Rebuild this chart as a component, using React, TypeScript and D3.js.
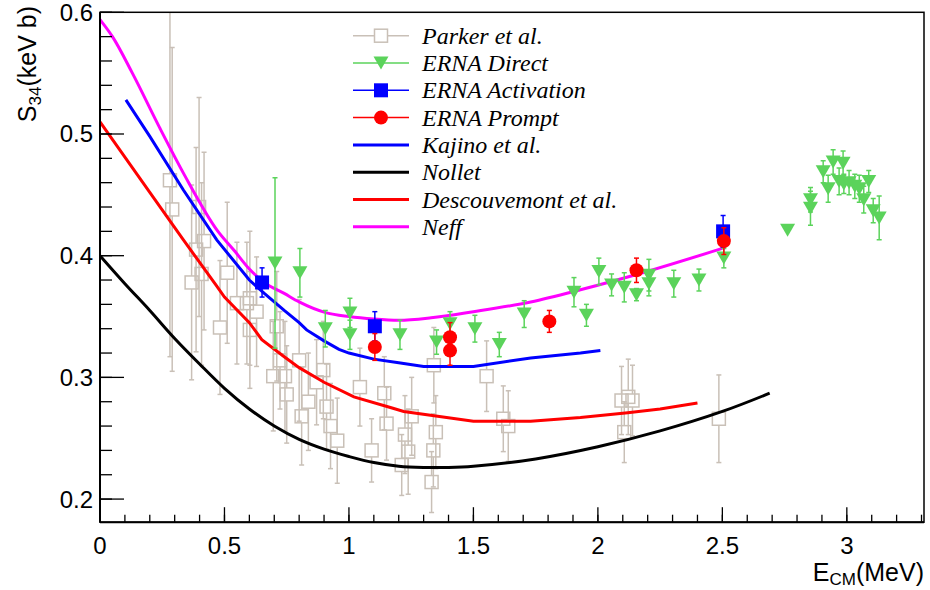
import React from "react";
import * as d3 from "d3";

// ---------- data ----------
const parkerX = [0.281, 0.290, 0.398, 0.418, 0.386, 0.368, 0.408, 0.511, 0.482, 0.550, 0.590, 0.602, 0.629, 0.602, 0.710, 0.723, 0.696, 0.743, 0.750, 0.800, 0.810, 0.837, 0.897, 0.870, 0.910, 0.926, 0.953, 1.044, 1.091, 1.142, 1.151, 1.212, 1.225, 1.238, 1.252, 1.341, 1.349, 1.339, 1.332, 1.553, 1.620, 1.640, 2.095, 2.122, 2.139, 2.106, 2.486];
const parkerY = [0.462, 0.438, 0.440, 0.412, 0.405, 0.378, 0.385, 0.386, 0.341, 0.361, 0.361, 0.365, 0.354, 0.339, 0.342, 0.314, 0.301, 0.301, 0.286, 0.314, 0.268, 0.280, 0.306, 0.296, 0.276, 0.260, 0.248, 0.292, 0.240, 0.287, 0.262, 0.228, 0.253, 0.239, 0.268, 0.310, 0.255, 0.240, 0.214, 0.301, 0.266, 0.260, 0.281, 0.284, 0.281, 0.255, 0.266];
const parkerErr = [0.145, 0.133, 0.090, 0.073, 0.084, 0.080, 0.075, 0.058, 0.055, 0.050, 0.050, 0.055, 0.045, 0.048, 0.045, 0.040, 0.045, 0.045, 0.040, 0.050, 0.040, 0.040, 0.040, 0.035, 0.035, 0.035, 0.035, 0.032, 0.026, 0.030, 0.030, 0.025, 0.032, 0.035, 0.032, 0.031, 0.030, 0.030, 0.025, 0.029, 0.027, 0.029, 0.028, 0.031, 0.029, 0.025, 0.036];

const directX = [0.703, 0.803, 0.905, 1.004, 1.004, 1.205, 1.352, 1.406, 1.506, 1.604, 1.704, 1.904, 1.954, 2.004, 2.055, 2.106, 2.155, 2.205, 2.205, 2.305, 2.406, 2.506, 2.762, 2.854, 2.854, 2.905, 2.925, 2.945, 2.969, 2.985, 2.988, 3.009, 3.032, 3.050, 3.068, 3.088, 3.106, 3.130];
const directY = [0.394, 0.386, 0.340, 0.353, 0.335, 0.335, 0.329, 0.344, 0.340, 0.327, 0.352, 0.370, 0.351, 0.387, 0.376, 0.374, 0.368, 0.384, 0.377, 0.377, 0.380, 0.398, 0.421, 0.446, 0.439, 0.469, 0.455, 0.477, 0.461, 0.476, 0.459, 0.460, 0.457, 0.455, 0.446, 0.461, 0.437, 0.431];
const directErr = [0.070, 0.020, 0.015, 0.012, 0.012, 0.012, 0.010, 0.010, 0.011, 0.010, 0.011, 0.012, 0.009, 0.011, 0.009, 0.012, 0.005, 0.013, 0.010, 0.011, 0.009, 0.008, 0.000, 0.010, 0.014, 0.009, 0.011, 0.010, 0.011, 0.010, 0.008, 0.010, 0.010, 0.011, 0.011, 0.009, 0.010, 0.018];

const activationX = [0.651, 1.104, 2.503];
const activationY = [0.378, 0.342, 0.420];
const activationErr = [0.012, 0.012, 0.013];

const promptX = [1.104, 1.406, 1.406, 1.805, 2.155, 2.506];
const promptY = [0.325, 0.333, 0.322, 0.346, 0.388, 0.412];
const promptErr = [0.011, 0.012, 0.012, 0.009, 0.010, 0.011];

const kajinoX = [0.104, 0.2, 0.335, 0.469, 0.60, 0.66, 0.74, 0.80, 0.83, 0.90, 0.96, 1.0, 1.1, 1.2, 1.3, 1.5, 1.73, 1.93, 2.01];
const kajinoY = [0.528, 0.498, 0.454, 0.413, 0.380, 0.369, 0.355, 0.345, 0.339, 0.330, 0.323, 0.320, 0.315, 0.312, 0.309, 0.309, 0.316, 0.320, 0.322];

const nolletX = [0, 0.1, 0.2, 0.3, 0.4, 0.5, 0.6, 0.7, 0.8, 0.9, 1.0, 1.1, 1.2, 1.3, 1.4, 1.5, 1.75, 2.0, 2.25, 2.5, 2.69];
const nolletY = [0.400, 0.377, 0.355, 0.332, 0.311, 0.291, 0.274, 0.260, 0.249, 0.241, 0.235, 0.230, 0.227, 0.226, 0.226, 0.227, 0.233, 0.243, 0.256, 0.272, 0.287];

const descX = [0, 0.2, 0.335, 0.469, 0.50, 0.60, 0.65, 0.74, 0.80, 0.90, 1.02, 1.17, 1.22, 1.5, 1.73, 1.93, 2.12, 2.25, 2.40];
const descY = [0.510, 0.452, 0.413, 0.375, 0.366, 0.345, 0.331, 0.317, 0.308, 0.296, 0.284, 0.275, 0.272, 0.264, 0.264, 0.267, 0.271, 0.274, 0.279];

const neffX = [0, 0.05, 0.13, 0.24, 0.34, 0.47, 0.54, 0.60, 0.66, 0.74, 0.80, 0.91, 1.0, 1.1, 1.2, 1.33, 1.5, 1.73, 1.93, 2.18, 2.5];
const neffY = [0.594, 0.580, 0.550, 0.505, 0.466, 0.421, 0.404, 0.389, 0.378, 0.369, 0.362, 0.353, 0.350, 0.348, 0.347, 0.349, 0.354, 0.362, 0.372, 0.386, 0.406];

const xMajorTicks = [0, 0.5, 1, 1.5, 2, 2.5, 3];
const xTickLabels = ["0", "0.5", "1", "1.5", "2", "2.5", "3"];
const yMajorTicks = [0.2, 0.3, 0.4, 0.5, 0.6];
const yTickLabels = ["0.2", "0.3", "0.4", "0.5", "0.6"];

const legendLabels = ["Parker et al.", "ERNA Direct", "ERNA Activation", "ERNA Prompt", "Kajino et al.", "Nollet", "Descouvemont et al.", "Neff"];

// ---------- styles ----------
const GRAY = "#c9c0b7";
const GREEN = "#5bd35b";
const BLUE = "#0000ff";
const RED = "#ff0000";
const MAGENTA = "#ff00ff";

const W = 930, H = 590;
const L = 100, R = 924, T = 12.3, B = 522.2;

export default function App() {
  const x = d3.scaleLinear().domain([0, 3.31]).range([L, R]);
  const y = d3.scaleLinear().domain([0.181, 0.6]).range([B, T]);

  const line = (xs: number[], ys: number[], curve: any) =>
    d3.line<number>().x((_, i) => x(xs[i])).y((_, i) => y(ys[i])).curve(curve)(xs.map((_, i) => i)) || "";

  const xMinor = d3.range(0, 34).map((i) => i * 0.1).filter((v) => v <= 3.31);
  const yMinor = d3.range(0, 21).map((i) => 0.2 + i * 0.02);

  const cap = 2.5;
  const errBar = (cx: number, v: number, e: number, color: string, gap: number, key: string) => {
    if (e <= 0) return null;
    const yt = y(v + e), yb = y(v - e), yc = y(v);
    const els = [] as any[];
    if (yc - gap > yt) els.push(<line key="a" x1={cx} x2={cx} y1={yt} y2={yc - gap} />);
    if (yc + gap < yb) els.push(<line key="b" x1={cx} x2={cx} y1={yc + gap} y2={yb} />);
    els.push(<line key="c" x1={cx - cap} x2={cx + cap} y1={yt} y2={yt} />);
    els.push(<line key="d" x1={cx - cap} x2={cx + cap} y1={yb} y2={yb} />);
    return (
      <g key={key} stroke={color} strokeWidth={1.5}>
        {els}
      </g>
    );
  };

  const tri = (cx: number, cy: number) => `M${cx - 7.5},${cy - 6.5}L${cx + 7.5},${cy - 6.5}L${cx},${cy + 6.5}Z`;

  const legY0 = 35.7, legDy = 27.3, legX1 = 353, legX2 = 409, legTx = 422;

  return (
    <div style={{ position: "absolute", left: 0, top: 0, width: W, height: H, background: "#fff" }}>
      <svg width={W} height={H} style={{ display: "block" }}>
        <defs>
          <clipPath id="plot">
            <rect x={L} y={T} width={R - L} height={B - T} />
          </clipPath>
        </defs>
        <rect x={0} y={0} width={W} height={H} fill="#fff" />

        <g clipPath="url(#plot)">
          {/* Parker */}
          {parkerX.map((v, i) => errBar(x(v), parkerY[i], parkerErr[i], GRAY, 6.5, "pe" + i))}
          {parkerX.map((v, i) => (
            <rect key={"pr" + i} x={x(v) - 6.5} y={y(parkerY[i]) - 6.5} width={13} height={13} fill="none" stroke={GRAY} strokeWidth={1.5} />
          ))}

          {/* theory curves */}
          <path d={line(nolletX, nolletY, d3.curveCatmullRom)} fill="none" stroke="#000" strokeWidth={3} />
          <path d={line(descX, descY, d3.curveLinear)} fill="none" stroke={RED} strokeWidth={3} />
          <path d={line(kajinoX, kajinoY, d3.curveLinear)} fill="none" stroke={BLUE} strokeWidth={3} />
          <path d={line(neffX, neffY, d3.curveMonotoneX)} fill="none" stroke={MAGENTA} strokeWidth={3} />

          {/* ERNA direct */}
          {directX.map((v, i) => errBar(x(v), directY[i], directErr[i], GREEN, 0, "de" + i))}
          {directX.map((v, i) => (
            <path key={"dm" + i} d={tri(x(v), y(directY[i]))} fill={GREEN} />
          ))}

          {/* ERNA activation */}
          {activationX.map((v, i) => errBar(x(v), activationY[i], activationErr[i], BLUE, 0, "ae" + i))}
          {activationX.map((v, i) => (
            <rect key={"am" + i} x={x(v) - 7} y={y(activationY[i]) - 7} width={14} height={14} fill={BLUE} />
          ))}

          {/* ERNA prompt */}
          {promptX.map((v, i) => errBar(x(v), promptY[i], promptErr[i], RED, 0, "re" + i))}
          {promptX.map((v, i) => (
            <circle key={"rm" + i} cx={x(v)} cy={y(promptY[i])} r={7} fill={RED} />
          ))}
        </g>

        {/* frame */}
        <rect x={L} y={T} width={R - L} height={B - T} fill="none" stroke="#000" strokeWidth={1.5} />
        <line x1={L} x2={L} y1={T} y2={B} stroke="#000" strokeWidth={2} />
        <line x1={L} x2={R} y1={B} y2={B} stroke="#000" strokeWidth={2} />

        {/* ticks */}
        <g stroke="#000" strokeWidth={1.3}>
          {xMinor.map((v, i) => (
            <line key={"xm" + i} x1={x(v)} x2={x(v)} y1={B} y2={B - 7.5} />
          ))}
          {xMajorTicks.map((v, i) => (
            <line key={"xM" + i} x1={x(v)} x2={x(v)} y1={B} y2={B - 15} />
          ))}
          {yMinor.map((v, i) => (
            <line key={"ym" + i} x1={L} x2={L + 12} y1={y(v)} y2={y(v)} />
          ))}
          {yMajorTicks.map((v, i) => (
            <line key={"yM" + i} x1={L} x2={L + 24} y1={y(v)} y2={y(v)} />
          ))}
        </g>

        <g fontFamily="'Liberation Sans', Arial, sans-serif" fill="#000">
          {xMajorTicks.map((v, i) => (
            <text key={"xl" + i} x={x(v)} y={554} textAnchor="middle" fontSize={24}>
              {xTickLabels[i]}
            </text>
          ))}
          {yMajorTicks.map((v, i) => (
            <text key={"yl" + i} x={93} y={y(v) + 8.5} textAnchor="end" fontSize={24}>
              {yTickLabels[i]}
            </text>
          ))}
          <text x={924} y={581} textAnchor="end" fontSize={25}>
            E<tspan fontSize={17} dy={4}>CM</tspan>
            <tspan dy={-4}>(MeV)</tspan>
          </text>
          <text transform="translate(36,6) rotate(-90)" textAnchor="end" fontSize={25}>
            S<tspan fontSize={17} dy={5}>34</tspan>
            <tspan dy={-5}>(keV b)</tspan>
          </text>
        </g>

        {/* legend */}
        <g>
          {legendLabels.map((lab, i) => {
            const ly = legY0 + i * legDy;
            const mx = (legX1 + legX2) / 2;
            let sample: any = null;
            if (i === 0) {
              sample = (
                <g>
                  <line x1={legX1} x2={legX2} y1={ly} y2={ly} stroke={GRAY} strokeWidth={1.5} />
                  <rect x={mx - 6.5} y={ly - 6.5} width={13} height={13} fill="#fff" stroke={GRAY} strokeWidth={1.5} />
                </g>
              );
            } else if (i === 1) {
              sample = (
                <g>
                  <line x1={legX1} x2={legX2} y1={ly} y2={ly} stroke={GREEN} strokeWidth={1.5} />
                  <path d={tri(mx, ly)} fill={GREEN} />
                </g>
              );
            } else if (i === 2) {
              sample = (
                <g>
                  <line x1={legX1} x2={legX2} y1={ly} y2={ly} stroke={BLUE} strokeWidth={1.5} />
                  <rect x={mx - 7} y={ly - 7} width={14} height={14} fill={BLUE} />
                </g>
              );
            } else if (i === 3) {
              sample = (
                <g>
                  <line x1={legX1} x2={legX2} y1={ly} y2={ly} stroke={RED} strokeWidth={1.5} />
                  <circle cx={mx} cy={ly} r={7} fill={RED} />
                </g>
              );
            } else {
              const c = [BLUE, "#000", RED, MAGENTA][i - 4];
              sample = <line x1={legX1} x2={legX2} y1={ly} y2={ly} stroke={c} strokeWidth={3} />;
            }
            return (
              <g key={"lg" + i}>
                {sample}
                <text x={legTx} y={ly + 8} fontFamily="'Liberation Serif', 'Times New Roman', serif" fontStyle="italic" fontSize={24} fill="#000">
                  {lab}
                </text>
              </g>
            );
          })}
        </g>
      </svg>
    </div>
  );
}
